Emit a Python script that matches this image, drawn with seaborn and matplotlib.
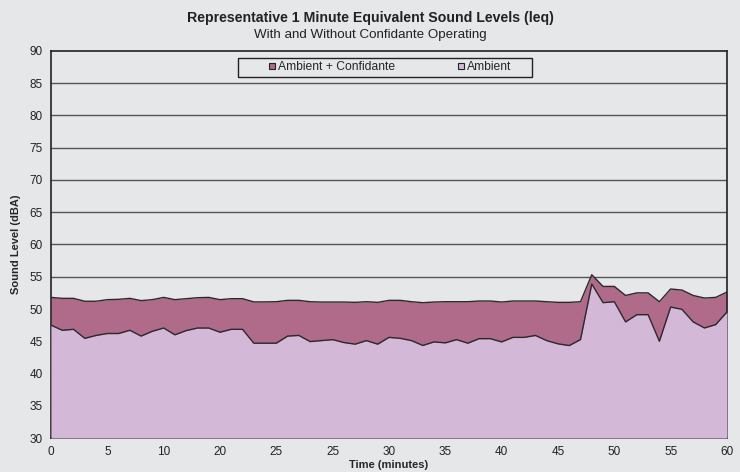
import numpy as np
import pandas as pd
import matplotlib
matplotlib.use('Agg')
import matplotlib.pyplot as plt
from matplotlib.lines import Line2D
from matplotlib.patches import Rectangle
import seaborn as sns

# minutes 0..60, one reading per minute
minutes = list(range(61))
ambient_conf = [51.8, 51.65, 51.65, 51.2, 51.2, 51.45, 51.5, 51.65, 51.3, 51.45,
                51.8, 51.45, 51.6, 51.75, 51.8, 51.45, 51.6, 51.6, 51.1, 51.1,
                51.13, 51.34, 51.34, 51.13, 51.08, 51.08, 51.08, 51.03, 51.13, 51.03,
                51.34, 51.34, 51.13, 50.98, 51.08, 51.13, 51.13, 51.13, 51.24, 51.24,
                51.08, 51.24, 51.24, 51.24, 51.13, 51.03, 51.03, 51.13, 55.31, 53.5,
                53.5, 52.1, 52.5, 52.5, 51.13, 53.1, 52.94, 52.1, 51.7, 51.8,
                52.63]
ambient = [47.5, 46.7, 46.85, 45.45, 45.9, 46.2, 46.2, 46.7, 45.8, 46.55,
           47.05, 46.0, 46.65, 47.05, 47.05, 46.4, 46.85, 46.85, 44.7, 44.7,
           44.7, 45.8, 45.9, 44.95, 45.1, 45.25, 44.8, 44.55, 45.1, 44.55,
           45.6, 45.45, 45.1, 44.35, 44.9, 44.75, 45.25, 44.7, 45.4, 45.4,
           44.9, 45.6, 45.6, 45.9, 45.1, 44.6, 44.33, 45.26, 53.87, 50.98,
           51.13, 48.0, 49.12, 49.12, 45.0, 50.3, 49.95, 48.0, 47.06, 47.58,
           49.54]
tick_labels = ['0', '5', '10', '20', '25', '25', '30', '35', '40', '45', '50', '55', '60']

df = pd.DataFrame({'minute': minutes, 'Ambient + Confidante': ambient_conf, 'Ambient': ambient})

bg = '#e6e7e9'
c_conf = '#b06a8a'
c_amb = '#d4b8d8'

sns.set_style('white', {'axes.facecolor': bg, 'figure.facecolor': bg})
plt.rcParams['font.family'] = ['Liberation Sans', 'DejaVu Sans']

fig = plt.figure(figsize=(7.4, 4.72), dpi=100)
ax = fig.add_axes([0.0689, 0.072, 0.9135, 0.82])

for v in range(35, 90, 5):
    ax.axhline(v, color='#555555', lw=1.0, zorder=1)

ax.fill_between(df.minute, 30, df['Ambient + Confidante'], color=c_conf, zorder=2, lw=0)
ax.fill_between(df.minute, 30, df['Ambient'], color=c_amb, zorder=3, lw=0)
sns.lineplot(data=df, x='minute', y='Ambient + Confidante', color='#2a2a2a', lw=1.0, ax=ax, zorder=4)
sns.lineplot(data=df, x='minute', y='Ambient', color='#2a2a2a', lw=1.0, ax=ax, zorder=4)

ax.set_xlim(0, 60)
ax.set_ylim(30, 90)
ax.set_xticks(np.arange(0, 61, 5))
ax.set_xticklabels(tick_labels)
ax.set_xticks(np.arange(0, 61, 1), minor=True)
ax.set_yticks(np.arange(30, 91, 5))
ax.tick_params(axis='both', which='major', direction='out', length=4, width=1, labelsize=8.5,
               color='#222222', labelcolor='#222222', pad=2)
ax.tick_params(axis='x', which='minor', direction='out', length=3, width=1, color='#222222')
for s in ax.spines.values():
    s.set_color('#222222')
    s.set_linewidth(1.2)

ax.set_xlabel('Time (minutes)', fontsize=8, fontweight='bold', labelpad=1)
ax.set_ylabel('Sound Level (dBA)', fontsize=8, fontweight='bold', labelpad=6)

fig.text(0.5, 0.962, 'Representative 1 Minute Equivalent Sound Levels (leq)',
         ha='center', va='center', fontsize=10.2, fontweight='bold', color='#222222')
fig.text(0.5, 0.926, 'With and Without Confidante Operating',
         ha='center', va='center', fontsize=9.6, color='#222222')

# legend frame drawn separately (wider than the entries)
fig.patches.append(Rectangle((238 / 740, 1 - 77 / 472), 294 / 740, 19 / 472,
                             transform=fig.transFigure, facecolor=bg,
                             edgecolor='#222222', lw=1.0, zorder=5))
handles = [Line2D([], [], marker='s', ls='', markersize=5, markerfacecolor=c_conf,
                  markeredgecolor='#222222', markeredgewidth=0.8),
           Line2D([], [], marker='s', ls='', markersize=5, markerfacecolor=c_amb,
                  markeredgecolor='#222222', markeredgewidth=0.8)]
leg = fig.legend(handles, ['Ambient + Confidante', 'Ambient'], ncol=2, loc='center',
                 bbox_to_anchor=(390 / 740, 1 - 67.5 / 472), frameon=False, fontsize=8.7,
                 handlelength=0.6, handletextpad=0.2, columnspacing=5.2, borderpad=0.0)
leg.set_zorder(6)

fig.savefig('out.png', dpi=100, facecolor=bg)
